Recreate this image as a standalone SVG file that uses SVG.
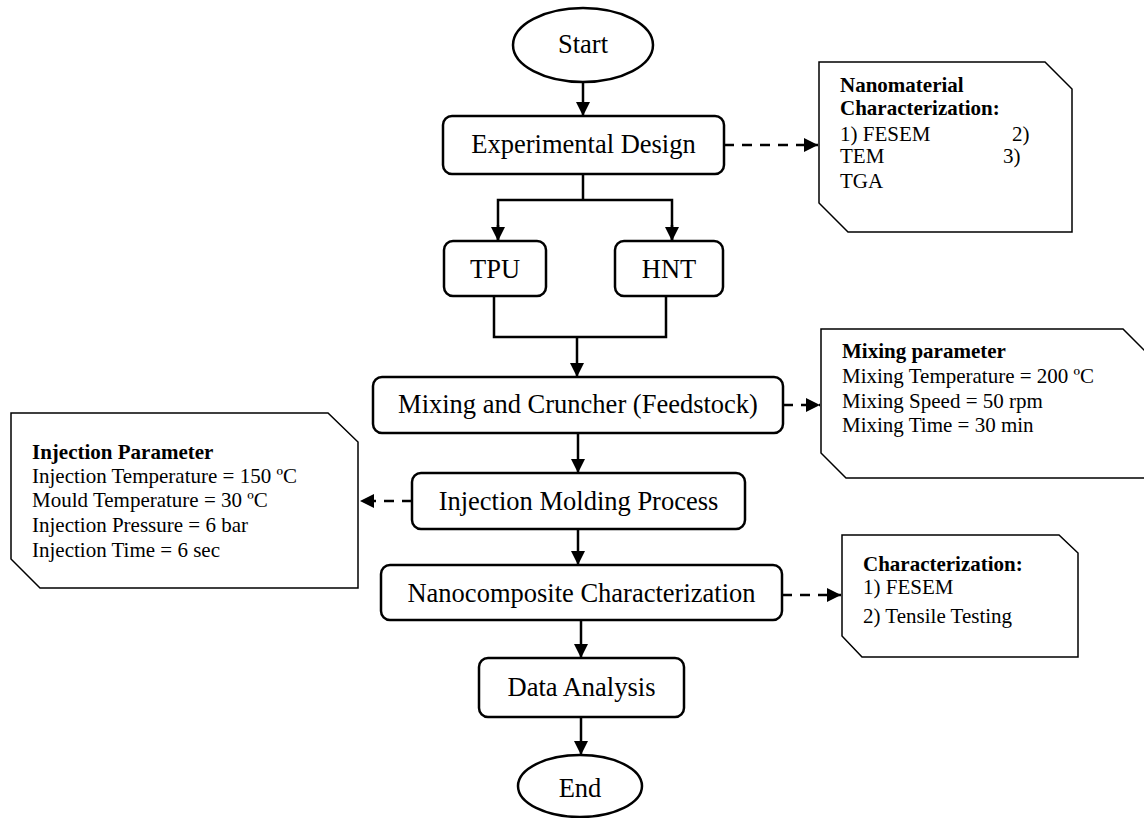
<svg xmlns="http://www.w3.org/2000/svg" width="1144" height="818" viewBox="0 0 1144 818">
<style>
.box{fill:#fff;stroke:#000;stroke-width:2.5}
.side{fill:#fff;stroke:#000;stroke-width:1.5}
.lbl{font-family:"Liberation Serif","Times New Roman",serif;font-size:26.5px;text-anchor:middle;fill:#000}
.sm{font-family:"Liberation Serif","Times New Roman",serif;font-size:21px;fill:#000}
.b{font-weight:bold}
.ln{fill:none;stroke:#000;stroke-width:2.5}
.ds{fill:none;stroke:#000;stroke-width:2.5;stroke-dasharray:10 8}
</style>
<defs>
<marker id="ah" markerUnits="userSpaceOnUse" markerWidth="14" markerHeight="14" refX="14" refY="7" orient="auto">
<path d="M0,0 L14,7 L0,14 z" fill="#000"/>
</marker>
</defs>
<g id="start"><ellipse class="box" cx="583" cy="45" rx="70" ry="37"/><text class="lbl" x="583" y="53">Start</text></g>
<g id="exp"><rect class="box" x="443" y="116" width="281" height="58" rx="9"/><text class="lbl" x="583.5" y="153">Experimental Design</text></g>
<g id="tpu"><rect class="box" x="444" y="241" width="102" height="55" rx="9"/><text class="lbl" x="495" y="278">TPU</text></g>
<g id="hnt"><rect class="box" x="615" y="241" width="108" height="55" rx="9"/><text class="lbl" x="669" y="278">HNT</text></g>
<g id="mix"><rect class="box" x="373" y="377" width="410" height="56" rx="9"/><text class="lbl" x="578" y="413">Mixing and Cruncher (Feedstock)</text></g>
<g id="inj"><rect class="box" x="412" y="473" width="333" height="56" rx="9"/><text class="lbl" x="578.5" y="510">Injection Molding Process</text></g>
<g id="nano"><rect class="box" x="381" y="565" width="401" height="55" rx="9"/><text class="lbl" x="581.5" y="602">Nanocomposite Characterization</text></g>
<g id="data"><rect class="box" x="479" y="658" width="205" height="59" rx="9"/><text class="lbl" x="581.5" y="696">Data Analysis</text></g>
<g id="end"><ellipse class="box" cx="580" cy="786" rx="62" ry="31"/><text class="lbl" x="580" y="797">End</text></g>
<g id="nanomat">
<path class="side" d="M819,62 L1045,62 L1072,89 L1072,232 L848,232 L819,203 Z"/>
<text class="sm b" x="840" y="92">Nanomaterial</text>
<text class="sm b" x="840" y="115">Characterization:</text>
<text class="sm" x="840" y="141">1) FESEM</text>
<text class="sm" x="1012" y="141">2)</text>
<text class="sm" x="840" y="163">TEM</text>
<text class="sm" x="1003" y="163">3)</text>
<text class="sm" x="840" y="188">TGA</text>
</g>
<g id="mixparam">
<path class="side" d="M821,329 L1123,329 L1146,352 L1146,478 L846,478 L821,453 Z"/>
<text class="sm b" x="842" y="358">Mixing parameter</text>
<text class="sm" x="842" y="383">Mixing Temperature = 200 ºC</text>
<text class="sm" x="842" y="408">Mixing Speed = 50 rpm</text>
<text class="sm" x="842" y="432">Mixing Time = 30 min</text>
</g>
<g id="injparam">
<path class="side" d="M11,413 L328,413 L358,442 L358,588 L40,588 L11,559 Z"/>
<text class="sm b" x="32" y="459">Injection Parameter</text>
<text class="sm" x="32" y="483">Injection Temperature = 150 ºC</text>
<text class="sm" x="32" y="507">Mould Temperature = 30 ºC</text>
<text class="sm" x="32" y="532">Injection Pressure = 6 bar</text>
<text class="sm" x="32" y="557">Injection Time = 6 sec</text>
</g>
<g id="charparam">
<path class="side" d="M842,535 L1059,535 L1078,553 L1078,657 L862,657 L842,636 Z"/>
<text class="sm b" x="863" y="571">Characterization:</text>
<text class="sm" x="863" y="594">1) FESEM</text>
<text class="sm" x="863" y="623">2) Tensile Testing</text>
</g>
<g id="connectors">
<line class="ln" x1="583" y1="82" x2="583" y2="116" marker-end="url(#ah)"/>
<polyline class="ln" points="583,174 583,200"/>
<polyline class="ln" points="498,241 498,200 672,200 672,241"/>
<line class="ln" x1="498" y1="225" x2="498" y2="241" marker-end="url(#ah)"/>
<line class="ln" x1="672" y1="225" x2="672" y2="241" marker-end="url(#ah)"/>
<polyline class="ln" points="494,296 494,337 666,337 666,296"/>
<line class="ln" x1="577" y1="337" x2="577" y2="377" marker-end="url(#ah)"/>
<line class="ln" x1="578" y1="433" x2="578" y2="473" marker-end="url(#ah)"/>
<line class="ln" x1="578" y1="529" x2="578" y2="565" marker-end="url(#ah)"/>
<line class="ln" x1="581" y1="620" x2="581" y2="658" marker-end="url(#ah)"/>
<line class="ln" x1="581" y1="717" x2="581" y2="755" marker-end="url(#ah)"/>
<line class="ds" x1="724" y1="145" x2="818" y2="145" marker-end="url(#ah)"/>
<line class="ds" x1="783" y1="405" x2="820" y2="405" marker-end="url(#ah)"/>
<line class="ds" x1="412" y1="501" x2="360" y2="501" marker-end="url(#ah)"/>
<line class="ds" x1="782" y1="595" x2="841" y2="595" marker-end="url(#ah)"/>
</g>
</svg>
